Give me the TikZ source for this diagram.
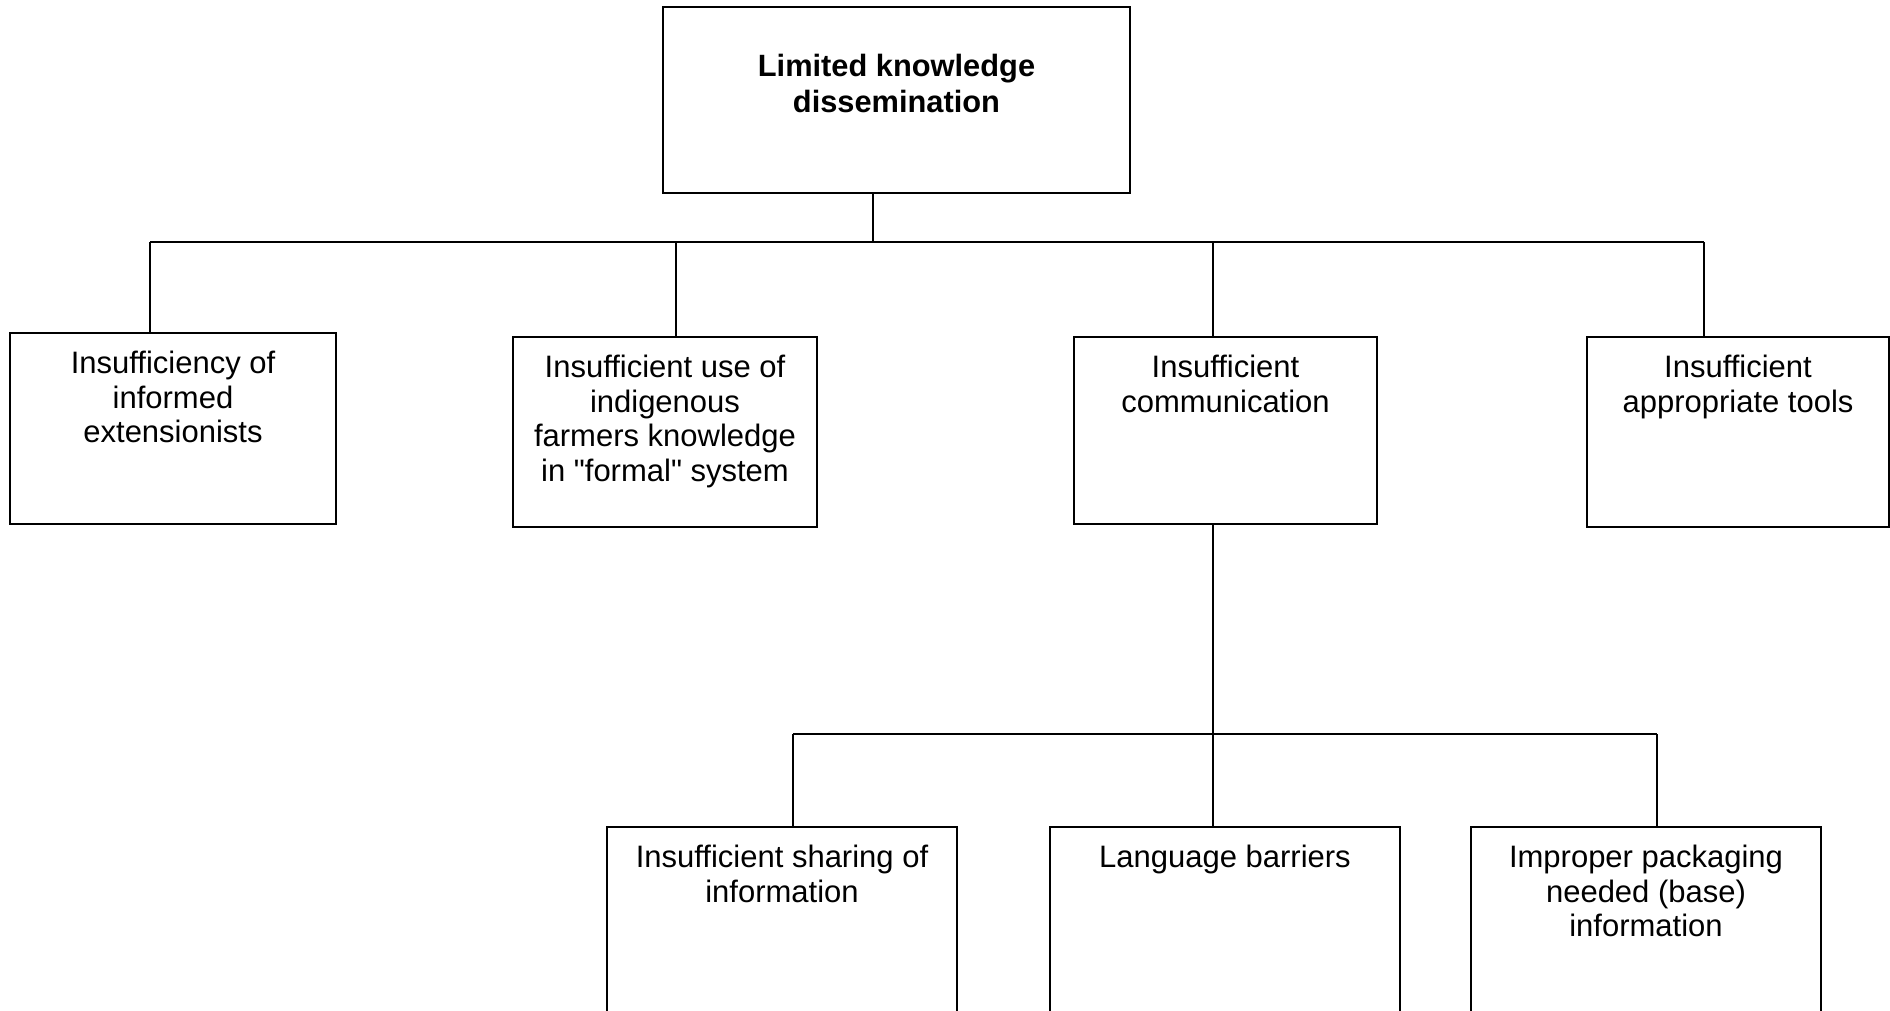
\documentclass[tikz,border=0pt]{standalone}
\usepackage{fontspec}
\setmainfont{Liberation Sans}[Ligatures=TeXOff]
\usetikzlibrary{fit,calc}
% strut that fixes the first baseline 12pt below the label's top
\newcommand{\topstrut}{\rule{0pt}{12pt}}
\begin{document}
\begin{tikzpicture}[x=0.5pt,y=-0.5pt,
  box/.style={draw, line width=0.85pt, rectangle, inner sep=0pt, outer sep=0pt},
  lbl/.style={anchor=north, inner sep=0pt, align=center,
              font=\fontsize{15.5pt}{17.3pt}\selectfont},
  ttl/.style={lbl, font=\fontsize{15.4pt}{18.2pt}\selectfont\bfseries},
  link/.style={line width=0.7pt}]
\useasboundingbox (0,0) rectangle (1890,1011);
\clip (0,0) rectangle (1890,1011);

% boxes
\node[box, fit={(663,7) (1130,193)}] (T) {};
\node[box, fit={(10,333) (336,524)}] (A) {};
\node[box, fit={(513,337) (817,527)}] (B) {};
\node[box, fit={(1074,337) (1377,524)}] (C) {};
\node[box, fit={(1587,337) (1889,527)}] (D) {};
\node[box, fit={(607,827) (957,1040)}] (E) {};
\node[box, fit={(1050,827) (1400,1040)}] (F) {};
\node[box, fit={(1471,827) (1821,1040)}] (G) {};

% labels
\node[ttl] (Tl) at ($(T.north)+(0,45)$) {\topstrut Limited knowledge\\dissemination};
\node[lbl] (Al) at ($(A.north)+(0,16)$) {\topstrut Insufficiency of\\informed\\extensionists};
\node[lbl] (Bl) at ($(B.north)+(0,16)$) {\topstrut Insufficient use of\\indigenous\\farmers knowledge\\in "formal" system};
\node[lbl] (Cl) at ($(C.north)+(0,16)$) {\topstrut Insufficient\\communication};
\node[lbl] (Dl) at ($(D.north)+(0,16)$) {\topstrut Insufficient\\appropriate tools};
\node[lbl] (El) at ($(E.north)+(0,16)$) {\topstrut Insufficient sharing of\\information};
\node[lbl] (Fl) at ($(F.north)+(0,16)$) {\topstrut Language barriers};
\node[lbl] (Gl) at ($(G.north)+(0,16)$) {\topstrut Improper packaging\\needed (base)\\information};

% first level branching
\coordinate (j0) at (873,242);
\coordinate (jA) at (150,242);
\coordinate (jB) at (676,242);
\coordinate (jC) at (1213,242);
\coordinate (jD) at (1704,242);
\draw[link] (j0 |- T.south) -- (j0);
\draw[link] (jA) -- (jD);
\draw[link] (jA) -- (jA |- A.north);
\draw[link] (jB) -- (jB |- B.north);
\draw[link] (jC) -- (jC |- C.north);
\draw[link] (jD) -- (jD |- D.north);

% second level branching
\coordinate (kE) at (793,734);
\coordinate (kF) at (1213,734);
\coordinate (kG) at (1657,734);
\draw[link] (kF |- C.south) -- (kF);
\draw[link] (kE) -- (kG);
\draw[link] (kE) -- (kE |- E.north);
\draw[link] (kF) -- (kF |- F.north);
\draw[link] (kG) -- (kG |- G.north);
\end{tikzpicture}
\end{document}
